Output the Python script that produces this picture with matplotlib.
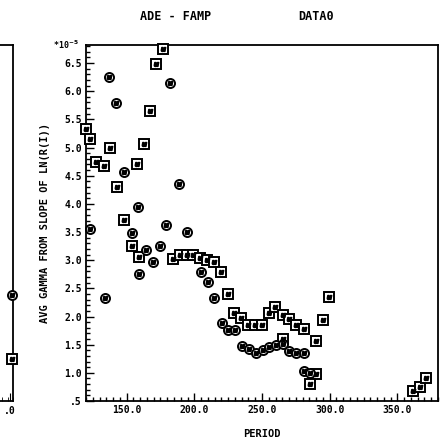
import numpy as np
import matplotlib
matplotlib.use("Agg")
import matplotlib.pyplot as plt
from matplotlib.ticker import MultipleLocator, FixedLocator

# values (period, avg gamma * 1e5)
sq_x = [176.8, 171.9, 167.5, 120.0, 122.7, 137.5, 162.8, 127.6, 133.3, 157.9,
        142.8, 148.0, 154.2, 159.1, 184.1, 189.6, 194.5, 199.4, 204.4, 209.5,
        214.9, 219.8, 224.7, 229.6, 234.6, 239.5, 244.9, 250.1, 254.9, 259.9,
        265.3, 270.2, 275.1, 280.8, 265.8, 289.9, 285.5, 289.9, 295.3, 299.7,
        361.7, 366.6, 371.0]
sq_y = [6.75, 6.48, 5.65, 5.33, 5.15, 5.00, 5.06, 4.74, 4.67, 4.70,
        4.30, 3.72, 3.25, 3.06, 3.02, 3.10, 3.10, 3.10, 3.03, 3.00,
        2.96, 2.79, 2.40, 2.07, 1.97, 1.85, 1.85, 1.85, 2.06, 2.17,
        2.03, 1.95, 1.85, 1.78, 1.60, 0.98, 0.81, 1.57, 1.94, 2.34,
        0.67, 0.75, 0.91]

ci_x = [136.7, 182.4, 141.9, 148.0, 188.6, 158.3, 178.8, 153.9, 194.5, 164.5,
        174.3, 169.4, 159.1, 134.3, 122.7, 205.1, 210.0, 214.9, 220.3, 225.2,
        230.2, 235.0, 240.2, 245.6, 250.5, 255.5, 260.4, 265.8, 270.2, 275.1,
        280.8, 280.8, 285.5]
ci_y = [6.26, 6.14, 5.79, 4.56, 4.36, 3.95, 3.63, 3.49, 3.50, 3.18,
        3.26, 2.97, 2.75, 2.32, 3.55, 2.79, 2.62, 2.32, 1.88, 1.76,
        1.76, 1.48, 1.42, 1.35, 1.41, 1.45, 1.50, 1.51, 1.39, 1.35,
        1.35, 1.04, 1.00]

# the neighbouring panel, only its right edge survives in the scan
prev_sq = (379.0, 1.25)
prev_ci = (379.0, 2.38)

yticks = [0.5, 1.0, 1.5, 2.0, 2.5, 3.0, 3.5, 4.0, 4.5, 5.0, 5.5, 6.0, 6.5]
ylabels = [".5", "1.0", "1.5", "2.0", "2.5", "3.0", "3.5", "4.0", "4.5",
           "5.0", "5.5", "6.0", "6.5"]
xticks = [150, 200, 250, 300, 350]
xlabels = ["150.0", "200.0", "250.0", "300.0", "350.0"]

font = {"family": "DejaVu Sans Mono", "weight": "bold"}
plt.rcParams["font.family"] = "DejaVu Sans Mono"
plt.rcParams["font.weight"] = "bold"

fig = plt.figure(figsize=(4.41, 4.44), dpi=100)
ax = fig.add_axes([86 / 441, 1 - 401 / 444, 352 / 441, 356 / 444])


def markers(a, x, y, m):
    a.plot(x, y, ls="none", marker=m, ms=6.5, mfc="white", mec="black",
           mew=1.4, clip_on=False, zorder=3)
    a.plot(x, y, ls="none", marker="$u$", ms=3.2, color="black",
           clip_on=False, zorder=4)


markers(ax, sq_x, sq_y, "s")
markers(ax, ci_x, ci_y, "o")

ax.set_xlim(120, 380)
ax.set_ylim(0.5, 6.82)
ax.xaxis.set_major_locator(FixedLocator(xticks))
ax.set_xticklabels(xlabels, fontsize=7, **font)
ax.xaxis.set_minor_locator(MultipleLocator(5))
ax.yaxis.set_major_locator(FixedLocator(yticks))
ax.set_yticklabels(ylabels, fontsize=7, **font)
ax.yaxis.set_minor_locator(MultipleLocator(0.1))
ax.tick_params(which="both", direction="in", top=False, right=False,
               width=1.0, pad=3)
ax.tick_params(which="major", length=6)
ax.tick_params(which="minor", length=3)
for s in ax.spines.values():
    s.set_linewidth(1.3)

ax.text(-0.02, 1.0, r"*10$^{-5}$", transform=ax.transAxes, ha="right",
        va="center", fontsize=6, **font)
ax.set_ylabel("AVG GAMMA FROM SLOPE OF LN(R(I))", fontsize=7.5, labelpad=10,
              **font)
ax.set_xlabel("PERIOD", fontsize=7.5, labelpad=10, **font)

fig.text(176 / 441, 1 - 16 / 444, "ADE - FAMP", ha="center", va="center",
         fontsize=8.5, **font)
fig.text(316 / 441, 1 - 16 / 444, "DATA0", ha="center", va="center",
         fontsize=8.5, **font)

# left neighbour panel edge
ax0 = fig.add_axes([-0.6, 1 - 401 / 444, 0.6 + 13 / 441, 356 / 444])
ax0.set_xlim(120, 380)
ax0.set_ylim(0.5, 6.82)
markers(ax0, [prev_sq[0]], [prev_sq[1]], "s")
markers(ax0, [prev_ci[0]], [prev_ci[1]], "o")
ax0.xaxis.set_major_locator(FixedLocator([377]))
ax0.set_xticklabels([".0"], fontsize=7, **font)
ax0.xaxis.set_minor_locator(MultipleLocator(5))
ax0.set_yticks([])
ax0.tick_params(which="both", direction="in", top=False, right=False)
ax0.tick_params(which="major", length=6)
ax0.tick_params(which="minor", length=3)
for s in ax0.spines.values():
    s.set_linewidth(1.3)

fig.savefig("out.png", dpi=100)
